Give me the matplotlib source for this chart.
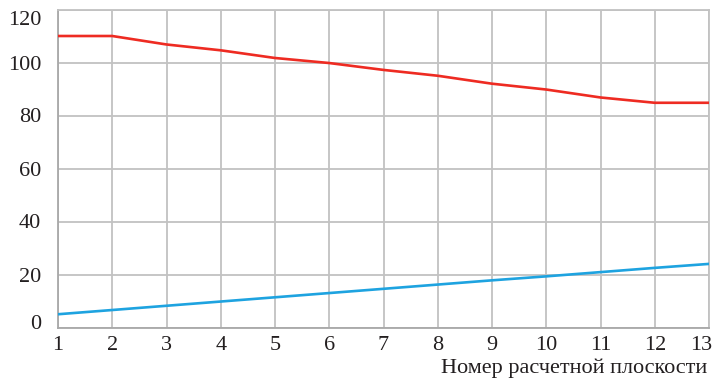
import matplotlib.pyplot as plt
import matplotlib.transforms as mtransforms

# номера расчетных плоскостей
planes = [1, 2, 3, 4, 5, 6, 7, 8, 9, 10, 11, 12, 13]
# верхняя кривая (красная)
upper = [110, 110, 106.8, 104.6, 101.7, 99.8, 97.2, 95, 92, 89.8, 86.8, 84.8, 84.8]
# нижняя кривая (синяя)
lower = [5, 6.6, 8.2, 9.8, 11.4, 13, 14.6, 16.2, 17.8, 19.3, 20.9, 22.5, 24]

yticks = [0, 20, 40, 60, 80, 100, 120]

plt.rcParams['font.family'] = ['Liberation Serif', 'DejaVu Serif']

fig = plt.figure(figsize=(7.12, 3.86), dpi=100)
ax = fig.add_axes([58 / 712, 1 - 327.5 / 386, 651 / 712, 318 / 386])

grid_col = '#c2c2c2'
ax.plot(planes, upper, color='#ee2b22', lw=1.9, zorder=3)
ax.plot(planes, lower, color='#1ea3e0', lw=1.9, zorder=3)

ax.set_xlim(1, 13)
ax.set_ylim(0, 120)
ax.set_xticks(planes)
ax.set_yticks(yticks)
ax.grid(True, color=grid_col, lw=1.3)
for s in ax.spines.values():
    s.set_color(grid_col)
    s.set_linewidth(1.3)
ax.spines['bottom'].set_color('#a8a8a8')
ax.spines['left'].set_color('#a8a8a8')

ax.tick_params(length=0, labelsize=16, colors='#231f20')
ax.tick_params(axis='x', pad=6)
ax.tick_params(axis='y', pad=12)


def shift(label, dx, dy):
    # сдвиг подписи в пикселях
    label.set_transform(label.get_transform() +
                        mtransforms.ScaledTranslation(dx / 100, dy / 100, fig.dpi_scale_trans))


# последняя подпись "13" прижата к правому краю
last = ax.get_xticklabels()[-1]
last.set_horizontalalignment('right')
shift(last, 3, 0)

# крайние подписи оси y сдвинуты внутрь
ylabels = ax.get_yticklabels()
shift(ylabels[0], 0, 5.5)
shift(ylabels[-1], 0, -8.5)

fig.text(707 / 712, 1 - 373 / 386, 'Номер расчетной плоскости',
         ha='right', va='baseline', fontsize=16, color='#231f20')

fig.savefig('out.png', dpi=100)
